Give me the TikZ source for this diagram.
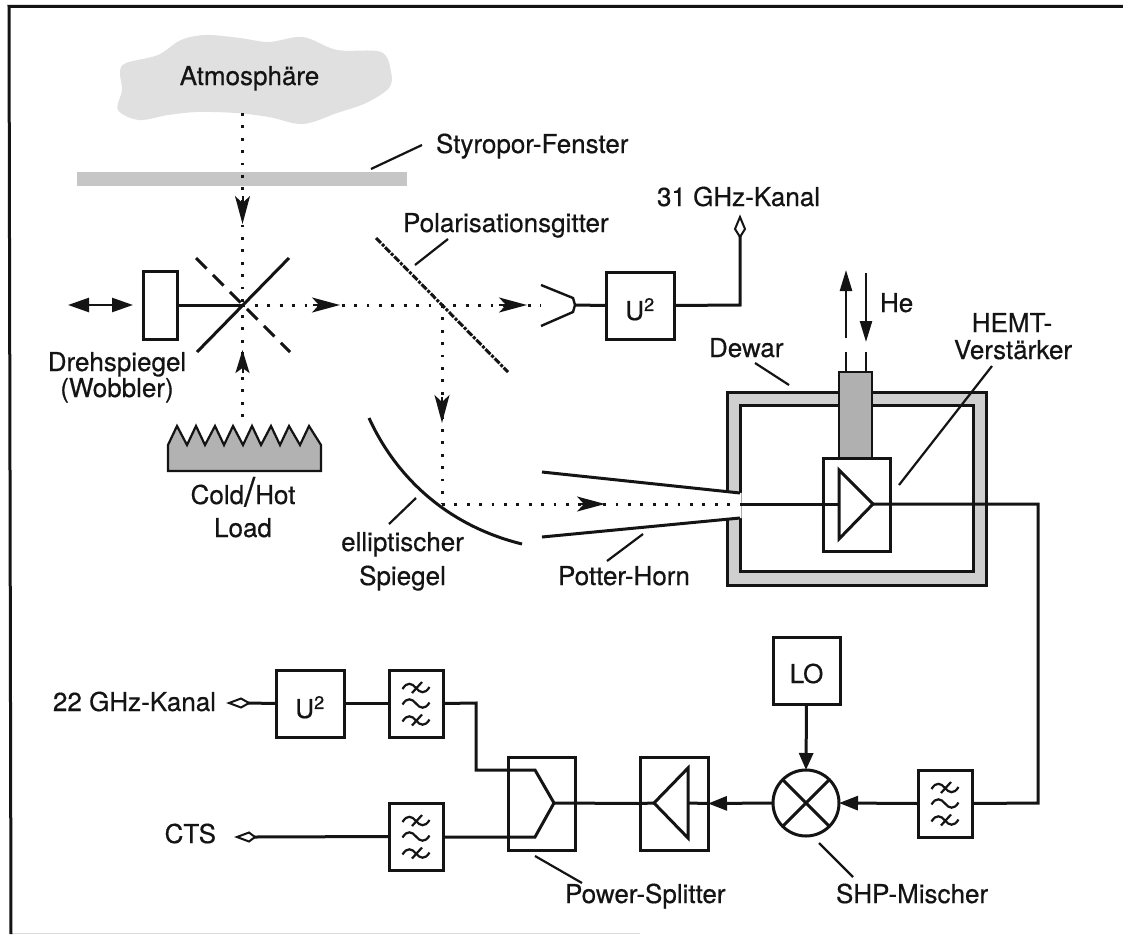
\documentclass[tikz,border=0pt]{standalone}
\usepackage{fontspec}
\setmainfont{TeX Gyre Heros}[RawFeature={embolden=0.5}]
\usetikzlibrary{arrows.meta,shapes.misc}
\definecolor{ink}{gray}{0.08}
\tikzset{
  x=1pt,y=-1pt,
  ink3/.style={draw=ink,line width=3pt},
  thin2/.style={draw=ink,line width=2pt},
  box/.style={draw=ink,line width=3pt,fill=white,minimum width=#1,inner sep=0pt,outer sep=0pt},
  txt/.style={text=ink,font=\fontsize{26}{26}\selectfont,inner sep=0pt,outer sep=0pt,anchor=base},
  lbl/.style={txt,anchor=base west},
  ray/.style={draw=ink,line width=3pt,dash pattern=on 2.8pt off 9.6pt},
  bigtip/.style={-{Stealth[length=28pt,width=15pt,inset=7pt]}},
  lead/.style={draw=ink,line width=2.2pt},
  filt/.pic={
    \foreach \yy/\cross in {-15.5/1,0/0,17/1}{
      \draw[draw=ink,line width=2.2pt] (-13.5,\yy+1) .. controls (-9,\yy-6.5) and (-4,\yy-5) .. (0,\yy) .. controls (4,\yy+5) and (9,\yy+6.5) .. (13.5,\yy-1);
      \ifnum\cross=1
        \draw[draw=ink,line width=2.2pt] (-4,\yy+5) -- (6,\yy-6);
      \fi
    }
  }
}
\begin{document}
\begin{tikzpicture}
\useasboundingbox (0,0) rectangle (1123,934);
\fill[white] (0,0) rectangle (1123,934);
% frame
\draw[draw=gray!30!white,line width=1pt] (11,933) -- (640,933);
\draw[ink3] (11,934) -- (9,6.5) -- (1123,6.5);
% cloud
\fill[gray!24!white] plot[smooth cycle,tension=0.55] coordinates {(120,72)(126,63)(158,55)(181,40)(206,35)(240,38)(269,42)(303,37)(337,50)(381,52)(391,72)(389,88)(366,103)(337,113)(303,124)(269,117)(236,113)(198,112)(168,115)(139,120)(118,110)(122,90)};
\node[txt] (atm) at (249.5,85) {Atmosphäre};
% window
\fill[gray!45!white] (77,172) rectangle (407,186);
\coordinate (winl) at (371,169); \coordinate (winr) at (422,145);
\draw[lead] (winl) -- (winr);
\node[lbl] (sty) at (436,153) {Styropor-Fenster};
% centre of wobbler
\coordinate (c) at (242.5,305);
\coordinate (raytop) at (242.5,113);
\coordinate (raytip) at (242.5,224);
\draw[ray] (raytop) -- (c);
\draw[bigtip,draw=ink,fill=ink,line width=2pt] (242.5,196) -- (raytip);
\coordinate (loadtop) at (242.5,417);
\draw[ray] (loadtop) -- (c);
\coordinate (uptip) at (242.5,350);
\path[draw=ink,fill=ink,line width=2pt,-{Stealth[length=23pt,width=14pt,inset=5pt]}] (242.5,373) -- (uptip);
% mirrors
\coordinate (ma) at (197,352); \coordinate (mb) at (289,258);
\coordinate (da) at (196,258); \coordinate (db) at (290,352);
\draw[ink3] (ma) -- (mb);
\draw[ink3,dash pattern=on 15pt off 9pt] (da) -- (db);
\node[box=34pt,minimum height=68pt] (wob) at (160,305) {};
\draw[ink3] (wob.east) -- (c);
\coordinate (dl) at (68,305); \coordinate (dr) at (133,305);
\draw[draw=ink,line width=2.4pt,{Stealth[length=21pt,width=14pt,inset=0pt]}-{Stealth[length=21pt,width=14pt,inset=0pt]}] (dl) -- (dr);
\node[txt] (dreh) at (117,371) {Drehspiegel};
\node[txt] (wobt) at (117,397) {(Wobbler)};
% load
\filldraw[fill=gray!60!white,draw=ink,line width=2.2pt] (168,471) -- (168,445) -- (177,426) -- (187,445) -- (196,426) -- (205,445) -- (215,426) -- (224,445) -- (233,426) -- (243,445) -- (252,426) -- (261,445) -- (271,426) -- (280,445) -- (289,426) -- (300,445) -- (309,426) -- (321,445) -- (321,471) -- cycle;
\node[txt] (cold) at (243,504) {Cold{\fontsize{40}{40}\selectfont\raisebox{-2pt}{/}}Hot};
\node[txt] (load) at (243,537) {Load};
% main ray
\coordinate (g) at (442,305);
\coordinate (hornin) at (541,305);
\draw[ray] (c) -- (hornin);
\coordinate (t1a) at (313,305); \coordinate (t1b) at (340,305);
\draw[bigtip,draw=ink,fill=ink,line width=2pt] (t1a) -- (t1b);
\coordinate (t2a) at (499,305); \coordinate (t2b) at (527,305);
\draw[bigtip,draw=ink,fill=ink,line width=2pt] (t2a) -- (t2b);
% grid
\coordinate (ga) at (376,238); \coordinate (gb) at (508,372);
\draw[ink3,dash pattern=on 7pt off 1.5pt on 3pt off 1.5pt] (ga) -- (gb);
\coordinate (pl1) at (415,265); \coordinate (pl2) at (448,239);
\draw[lead] (pl1) -- (pl2);
\node[lbl] (pol) at (403,232) {Polarisationsgitter};
% down ray
\coordinate (corner) at (442,504);
\draw[ray] (g) -- (corner);
\path[draw=ink,fill=ink,line width=2pt,bigtip] (442,397) -- (442,423);
% elliptical mirror
\draw[ink3] (369,418) .. controls (395,475) and (445,525) .. (522,544);
\coordinate (el1) at (389,524); \coordinate (el2) at (416,498);
\draw[lead] (el1) -- (el2);
\node[txt] (ell) at (402.5,551) {elliptischer};
\node[txt] (spi) at (402.5,585) {Spiegel};
% horn small
\draw[draw=ink,line width=2.4pt] (541,285) -- (573,298) -- (575,305) -- (573,312) -- (541,326);
\node[box=68pt,minimum height=67pt] (u1) at (640,305.5) {};
\node[txt] at (640,320) {U\textsuperscript{2}};
\draw[ink3] (575,305) -- (u1.west);
\coordinate (k31) at (740,217);
\draw[ink3] (u1.east) -- (740,305) -- (740,236);
\draw[line width=2pt,draw=ink,fill=white] (k31) -- (745,229) -- (740,237) -- (735,229) -- cycle;
\node[lbl] (kan31) at (657,206) {31 GHz-Kanal};
% Dewar
\filldraw[fill=gray!38!white,draw=ink,line width=3pt] (727,392) rectangle (986,585);
\filldraw[fill=white,draw=ink,line width=3pt] (740,405) rectangle (973,571);
\fill[white] (542,472) -- (741.5,493) -- (741.5,518) -- (542,537) -- cycle;
\draw[ink3] (542,472) -- (740,493);
\draw[ink3] (542,537) -- (740,518);
\coordinate (hornout) at (738,504);
\draw[ray] (corner) -- (hornout);
\draw[bigtip,draw=ink,fill=ink,line width=2pt] (578,504) -- (605,504);
% stem
\filldraw[fill=gray!62!white,draw=ink,line width=2.2pt] (839,372) rectangle (872,458);
\draw[thin2] (846,372) -- (846,352);
\draw[thin2] (866,372) -- (866,352);
\draw[draw=ink,line width=2.4pt,-{Stealth[length=21pt,width=12pt,inset=0pt]}] (846,338) -- (846,270);
\draw[draw=ink,line width=2.4pt,-{Stealth[length=21pt,width=12pt,inset=0pt]}] (866,273) -- (866,342);
\node[lbl] (he) at (880,312) {He};
% amp
\node[box=67pt,minimum height=93pt] (amp) at (856.5,504.5) {};
\draw[ink3] (740,504) -- (839,504);
\filldraw[fill=white,draw=ink,line width=3pt] (839,470) -- (873,504) -- (839,539) -- cycle;
% lines
\coordinate (rc) at (1038,504);
\node[box=54pt,minimum height=67pt] (f3) at (945,803.5) {};
\pic at (945,803.5) {filt};
\draw[ink3] (873,504) -- (rc) -- (1038,803) -- (f3.east);
% labels on dewar
\node[lbl] (dew) at (709,357) {Dewar};
\coordinate (dw1) at (755,363); \coordinate (dw2) at (789,385);
\draw[lead] (dw1) -- (dw2);
\node[txt] (hemt) at (1012,332) {HEMT-};
\node[txt] (verst) at (1013,359) {Verstärker};
\coordinate (he1) at (992,366); \coordinate (he2) at (899,485);
\draw[lead] (he1) -- (he2);
\coordinate (po1) at (607,561); \coordinate (po2) at (643,534);
\draw[lead] (po1) -- (po2);
\node[lbl] (pot) at (558,585) {Potter-Horn};
% lower row
\node[draw=ink,line width=3pt,circle,minimum size=66pt,inner sep=0pt,outer sep=0pt,fill=white] (mix) at (806,803) {};
\draw[ink3] (mix.45) -- (mix.225);
\draw[ink3] (mix.135) -- (mix.315);
\node[box=67pt,minimum height=67pt] (lo) at (806.5,670.5) {};
\node[txt] at (806.5,683) {LO};
\draw[draw=ink,line width=3pt,-{Stealth[length=17pt,width=14pt,inset=0pt]}] (lo.south) -- (mix.north);
\draw[draw=ink,line width=3pt,-{Stealth[length=19pt,width=14pt,inset=0pt]}] (f3.west) -- (mix.east);
\node[box=68pt,minimum height=93pt] (amp2) at (674,803.5) {};
\draw[ink3] (688,803) -- (amp2.east);
\filldraw[fill=white,draw=ink,line width=3pt] (654,803) -- (688,768) -- (688,838) -- cycle;
\draw[draw=ink,line width=3pt,-{Stealth[length=19pt,width=14pt,inset=0pt]}] (mix.west) -- (amp2.east);
\node[box=67pt,minimum height=93pt] (ps) at (541.5,803.5) {};
\draw[ink3] (amp2.west) -- (654,803);
\draw[ink3] (554,803) -- (amp2.west);
\node[box=54pt,minimum height=67pt] (f1) at (416,703.5) {};
\pic at (416,703.5) {filt};
\node[box=54pt,minimum height=67pt] (f2) at (416,836.5) {};
\pic at (416,836.5) {filt};
\draw[ink3] (f1.east) -- (476,703) -- (476,770) -- (535,770) -- (554,803) -- (535,837) -- (f2.east |- 535,837);
\node[box=68pt,minimum height=67pt] (u2) at (310,703.5) {};
\node[txt] at (310,718) {U\textsuperscript{2}};
\draw[ink3] (u2.east) -- (f1.west);
\draw[ink3] (u2.west) -- (248,703);
\draw[line width=2pt,draw=ink,fill=white] (229,703) -- (241,698.5) -- (249,703) -- (241,707.5) -- cycle;
\node[txt,anchor=base east] (k22) at (216,711) {22 GHz-Kanal};
\draw[ink3] (f2.west) -- (254,837);
\draw[line width=2pt,draw=ink,fill=white] (237,837) -- (249,832.5) -- (255,837) -- (249,841.5) -- cycle;
\node[txt,anchor=base east] (cts) at (216,843) {CTS};
\coordinate (ps1) at (535,856); \coordinate (ps2) at (582,883);
\draw[lead] (ps1) -- (ps2);
\node[lbl] (pst) at (565,903) {Power-Splitter};
\coordinate (sh1) at (819,843); \coordinate (sh2) at (853,877);
\draw[lead] (sh1) -- (sh2);
\node[lbl] (shp) at (836,903) {SHP-Mischer};
\end{tikzpicture}
\end{document}
